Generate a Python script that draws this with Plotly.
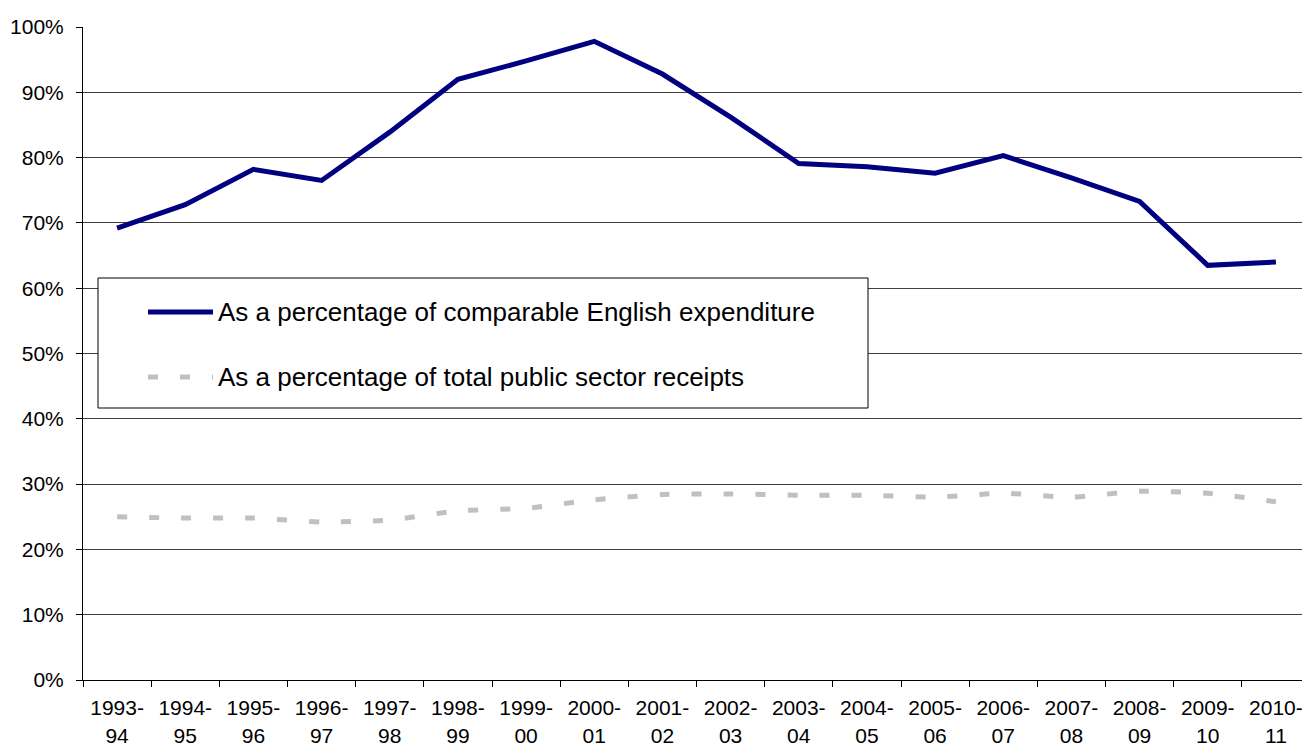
import plotly.graph_objects as go

years = ["1993-<br>94", "1994-<br>95", "1995-<br>96", "1996-<br>97", "1997-<br>98", "1998-<br>99",
         "1999-<br>00", "2000-<br>01", "2001-<br>02", "2002-<br>03", "2003-<br>04", "2004-<br>05",
         "2005-<br>06", "2006-<br>07", "2007-<br>08", "2008-<br>09", "2009-<br>10", "2010-<br>11"]
english_pct = [69.2, 72.8, 78.2, 76.5, 83.9, 92.0, 94.8, 97.8, 92.8, 86.2, 79.1, 78.6,
               77.6, 80.3, 76.9, 73.3, 63.5, 64.0]
receipts_pct = [25.0, 24.8, 24.8, 24.2, 24.5, 25.9, 26.3, 27.6, 28.4, 28.5, 28.3, 28.3,
                28.0, 28.6, 28.0, 28.9, 28.6, 27.3]
series_names = ["As a percentage of comparable English expenditure",
                "As a percentage of total public sector receipts"]
y_ticks = [0, 10, 20, 30, 40, 50, 60, 70, 80, 90, 100]

BLUE = "#000080"
GREY = "#c0c0c0"
FONT = "Liberation Sans, Arial, sans-serif"

fig = go.Figure()
fig.add_trace(go.Scatter(x=years, y=english_pct, mode="lines", name=series_names[0],
                         line=dict(color=BLUE, width=5), showlegend=False))
fig.add_trace(go.Scatter(x=years, y=receipts_pct, mode="lines", name=series_names[1],
                         line=dict(color=GREY, width=5, dash="10px,22px", shape="spline", smoothing=0.6),
                         showlegend=False))

# manual legend box (paper coordinates; plot area spans x 83..1310, y 27..680 on screen)
def px_x(p):
    return (p - 83) / 1227
def px_y(p):
    return (680 - p) / 653

fig.add_shape(type="rect", xref="paper", yref="paper", x0=px_x(98), x1=px_x(868),
              y0=px_y(408), y1=px_y(278), line=dict(color="black", width=1), fillcolor="white", layer="above")
fig.add_shape(type="line", xref="paper", yref="paper", x0=px_x(148), x1=px_x(213),
              y0=px_y(312), y1=px_y(312), line=dict(color=BLUE, width=5), layer="above")
fig.add_shape(type="line", xref="paper", yref="paper", x0=px_x(148), x1=px_x(213),
              y0=px_y(377), y1=px_y(377), line=dict(color=GREY, width=5, dash="10px,22px"), layer="above")
for name, py in zip(series_names, [312, 377]):
    fig.add_annotation(xref="paper", yref="paper", x=px_x(216), y=px_y(py), text=name,
                       showarrow=False, xanchor="left", yanchor="middle",
                       font=dict(family=FONT, size=26, color="black"))

# page body has an 8px default margin, so compensate
fig.update_layout(
    width=1302, height=739,
    margin=dict(l=75, r=0, t=19, b=67, autoexpand=False),
    paper_bgcolor="white", plot_bgcolor="white",
    font=dict(family=FONT, size=21, color="black"),
    showlegend=False,
)
fig.update_xaxes(type="category", range=[-0.5, 17.5], tickson="boundaries", ticks="outside", ticklen=6,
                 tickcolor="black", showline=True, linecolor="black", linewidth=1, automargin=False,
                 showgrid=False, tickfont=dict(size=21), tickangle=0, ticklabelstandoff=9)
fig.update_yaxes(range=[0, 100], tickvals=y_ticks, ticktext=[f"{v}%" for v in y_ticks],
                 ticks="outside", ticklen=6, tickcolor="black", showline=True, linecolor="black",
                 linewidth=1, showgrid=True, gridcolor="#404040", gridwidth=1, zeroline=False,
                 automargin=False, tickfont=dict(size=21), ticklabelstandoff=8)

fig.write_html("out.html")
